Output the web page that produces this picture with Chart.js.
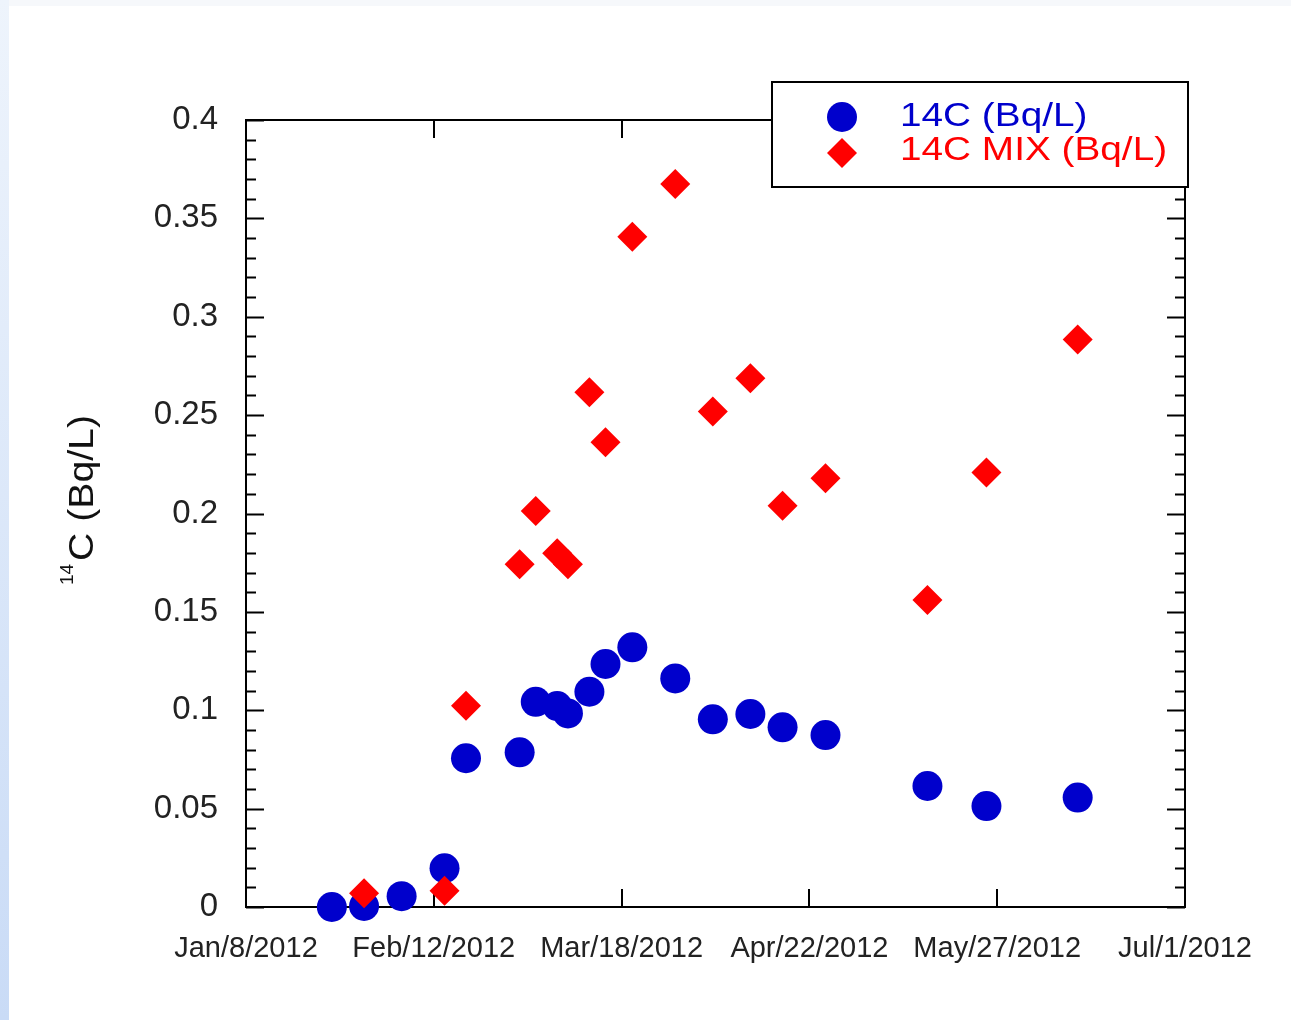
<!DOCTYPE html>
<html>
<head>
<meta charset="utf-8">
<script src="https://cdn.jsdelivr.net/npm/chart.js@4.4.1/dist/chart.umd.min.js"></script>
<style>
  html, body { margin: 0; padding: 0; background: #fff; }
  #wrap { position: relative; width: 1291px; height: 1020px; overflow: hidden; }
  #strip { position: absolute; left: 0; top: 0; width: 9px; height: 1020px; background: linear-gradient(#eef4fc, #c9dbf6); }
  #topband { position: absolute; left: 0; top: 0; width: 1291px; height: 6px; background: #f6f8fb; }
  canvas { position: absolute; left: 0; top: 0; }
</style>
</head>
<body>
<div id="wrap">
  <div id="topband"></div>
  <div id="strip"></div>
  <canvas id="chart" width="1291" height="1020"></canvas>
</div>
<script>
// sample dates and measured values (Bq/L); null = not measured
const sampleDates = [
    '2012-01-24', '2012-01-30', '2012-02-06', '2012-02-14', '2012-02-18',
    '2012-02-28', '2012-03-02', '2012-03-06', '2012-03-08', '2012-03-12',
    '2012-03-15', '2012-03-20', '2012-03-28', '2012-04-04', '2012-04-11',
    '2012-04-17', '2012-04-25', '2012-05-14', '2012-05-25', '2012-06-11'
];
const c14 = [
    0.000, 0.0005, 0.0055, 0.0197, 0.0756,
    0.0786, 0.1043, 0.1021, 0.0984, 0.1094,
    0.1235, 0.132, 0.1162, 0.0954, 0.0981,
    0.0913, 0.0874, 0.0615, 0.0513, 0.0556
];
const c14Mix = [
    null, 0.007, null, 0.0083, 0.1023,
    0.1742, 0.2013, 0.1798, 0.1742, 0.2616,
    0.2362, 0.3407, 0.3675, 0.2518, 0.2687,
    0.204, 0.2179, 0.156, 0.2209, 0.2884
];

const xTickDates = ['2012-01-08', '2012-02-12', '2012-03-18', '2012-04-22', '2012-05-27', '2012-07-01'];
const xTickLabels = ['Jan/8/2012', 'Feb/12/2012', 'Mar/18/2012', 'Apr/22/2012', 'May/27/2012', 'Jul/1/2012'];
const yMin = 0, yMax = 0.4, yStep = 0.05, yMinorStep = 0.01;

const FONT = '"Liberation Sans", Arial, sans-serif';
const BLUE = '#0000cc';
const RED = '#ff0000';

const ms = d => Date.parse(d);
const toPoints = vals => sampleDates
    .map((d, i) => ({ x: ms(d), y: vals[i] }))
    .filter(p => p.y !== null);

// box frame with inward ticks
const framePlugin = {
    id: 'frame',
    beforeDatasetsDraw(chart) {
        const { ctx, chartArea: a, scales: { x, y } } = chart;
        ctx.save();
        ctx.strokeStyle = '#000';
        ctx.lineWidth = 2;
        ctx.strokeRect(a.left, a.top, a.right - a.left, a.bottom - a.top);
        ctx.beginPath();
        const n = Math.round((yMax - yMin) / yMinorStep);
        for (let i = 0; i <= n; i++) {
            const v = yMin + i * yMinorStep;
            const py = Math.round(y.getPixelForValue(v)) + 0.5;
            const len = i % 5 === 0 ? 18 : 10;
            ctx.moveTo(a.left, py); ctx.lineTo(a.left + len, py);
            ctx.moveTo(a.right, py); ctx.lineTo(a.right - len, py);
        }
        x.ticks.forEach(t => {
            const px = Math.round(x.getPixelForValue(t.value));
            ctx.moveTo(px, a.bottom); ctx.lineTo(px, a.bottom - 18);
            ctx.moveTo(px, a.top); ctx.lineTo(px, a.top + 18);
        });
        ctx.stroke();
        ctx.restore();
    }
};

// boxed legend at top right and the rotated axis title
const legendPlugin = {
    id: 'boxLegend',
    afterDraw(chart) {
        const { ctx, chartArea: a } = chart;
        const bx = a.right - 413, by = a.top - 38, bw = 416, bh = 105;
        ctx.save();
        ctx.fillStyle = '#fff';
        ctx.fillRect(bx, by, bw, bh);
        ctx.strokeStyle = '#000';
        ctx.lineWidth = 2;
        ctx.strokeRect(bx, by, bw, bh);

        const rows = [
            { ds: chart.data.datasets[0], my: by + 35, base: by + 44 },
            { ds: chart.data.datasets[1], my: by + 71, base: by + 78 }
        ];
        rows.forEach(r => {
            ctx.fillStyle = r.ds.backgroundColor;
            Chart.helpers.drawPoint(ctx, {
                pointStyle: r.ds.pointStyle, radius: r.ds.pointRadius, rotation: 0, borderWidth: 0
            }, bx + 70, r.my);
            ctx.save();
            ctx.translate(bx + 128, r.base);
            ctx.scale(1.14, 1);
            ctx.font = '34px ' + FONT;
            ctx.textBaseline = 'alphabetic';
            ctx.textAlign = 'left';
            ctx.fillText(r.ds.label, 0, 0);
            ctx.restore();
        });

        // y axis title: superscript 14 + C (Bq/L)
        ctx.fillStyle = '#111';
        ctx.translate(93, 585);
        ctx.rotate(-Math.PI / 2);
        ctx.textBaseline = 'alphabetic';
        ctx.textAlign = 'left';
        ctx.font = '19px ' + FONT;
        ctx.fillText('14', 0, -20);
        ctx.translate(24, 0);
        ctx.scale(1.12, 1);
        ctx.font = '35px ' + FONT;
        ctx.fillText('C (Bq/L)', 0, 0);
        ctx.restore();
    }
};

new Chart(document.getElementById('chart'), {
    type: 'scatter',
    data: {
        datasets: [
            {
                label: '14C (Bq/L)',
                data: toPoints(c14),
                pointStyle: 'circle',
                pointRadius: 15,
                backgroundColor: BLUE,
                borderWidth: 0,
                clip: false,
                order: 1
            },
            {
                label: '14C MIX (Bq/L)',
                data: toPoints(c14Mix),
                pointStyle: 'rectRot',
                pointRadius: 15,
                backgroundColor: RED,
                borderWidth: 0,
                clip: false,
                order: 0
            }
        ]
    },
    options: {
        responsive: false,
        animation: false,
        events: [],
        layout: { padding: { left: 0, top: 120, right: 106, bottom: 0 } },
        plugins: {
            legend: { display: false },
            tooltip: { enabled: false }
        },
        scales: {
            x: {
                type: 'linear',
                min: ms(xTickDates[0]),
                max: ms(xTickDates[xTickDates.length - 1]),
                afterBuildTicks: s => { s.ticks = xTickDates.map(d => ({ value: ms(d) })); },
                afterFit: s => { s.height = 113; },
                grid: { display: false },
                border: { display: false },
                ticks: {
                    autoSkip: false,
                    maxRotation: 0,
                    padding: 17,
                    color: '#222',
                    font: { family: FONT, size: 29 },
                    callback: (v, i) => xTickLabels[i]
                }
            },
            y: {
                min: yMin,
                max: yMax,
                afterFit: s => { s.width = 246; },
                grid: { display: false },
                border: { display: false },
                ticks: {
                    stepSize: yStep,
                    padding: 20,
                    color: '#222',
                    font: { family: FONT, size: 33 },
                    callback: v => String(+v.toFixed(2))
                }
            }
        }
    },
    plugins: [framePlugin, legendPlugin]
});
</script>
</body>
</html>
